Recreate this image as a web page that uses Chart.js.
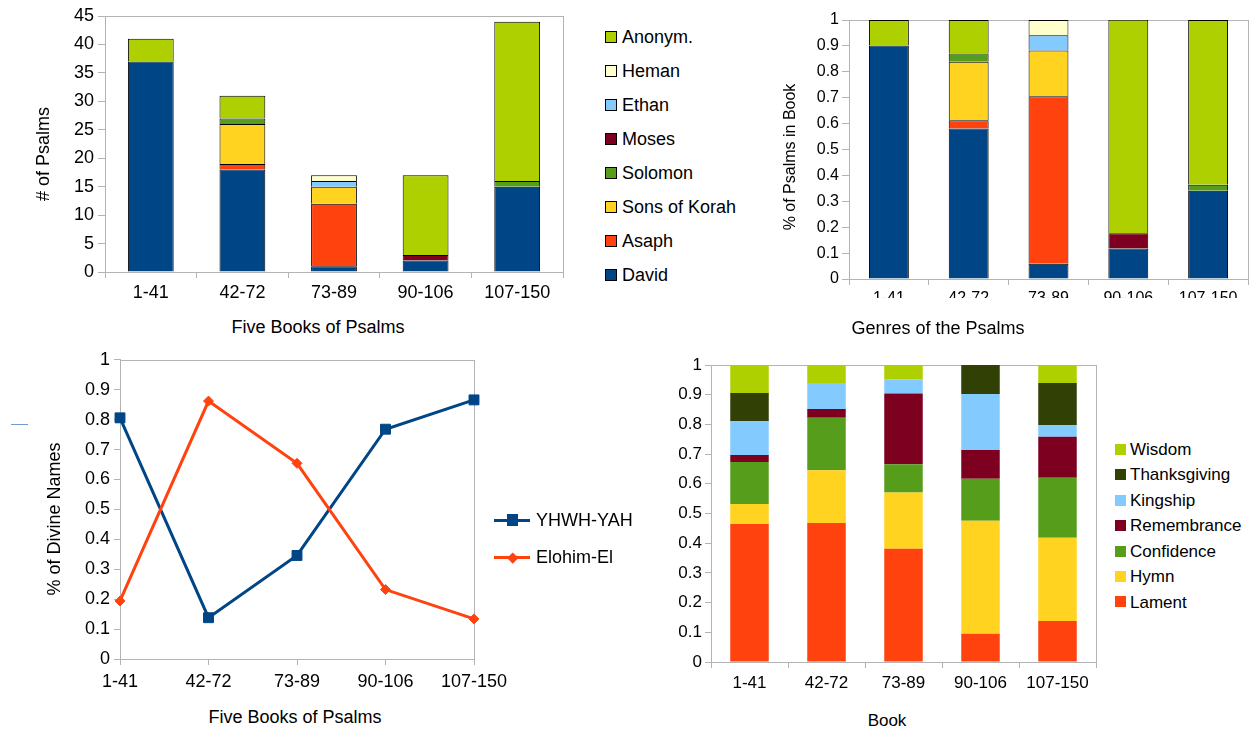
<!DOCTYPE html>
<html>
<head>
<meta charset="utf-8">
<title>Psalms: authors, divine names and genres</title>
<script src="https://cdn.jsdelivr.net/npm/chart.js@4.4.1/dist/chart.umd.min.js"></script>
<style>
  html, body { margin: 0; padding: 0; background: #fff; }
  #page { position: relative; width: 1254px; height: 730px; overflow: hidden;
          font-family: "Liberation Sans", Arial, sans-serif; color: #000; }
  #page canvas { position: absolute; }
  .ttl { position: absolute; white-space: nowrap; text-align: center; width: 400px; }
  .lg  { position: absolute; white-space: nowrap; }
  .sw  { position: absolute; box-sizing: border-box; }
</style>
</head>
<body>
<div id="page">
  <canvas id="authorCounts"></canvas>
  <canvas id="authorShares"></canvas>
  <canvas id="divineNames"></canvas>
  <canvas id="genreShares"></canvas>
  <div id="overlay"></div>
</div>
<script>
// ---- data ---------------------------------------------------------------
const books = ['1-41', '42-72', '73-89', '90-106', '107-150'];

// number of psalms per author in each book
const david   = [37, 18, 1, 2, 15];
const asaph   = [0, 1, 11, 0, 0];
const korah   = [0, 7, 3, 0, 0];
const solomon = [0, 1, 0, 0, 1];
const moses   = [0, 0, 0, 1, 0];
const ethan   = [0, 0, 1, 0, 0];
const heman   = [0, 0, 1, 0, 0];
const anonym  = [4, 4, 0, 14, 28];

// share of each author within a book
const davidShare   = [0.902, 0.581, 0.059, 0.118, 0.341];
const asaphShare   = [0, 0.032, 0.647, 0, 0];
const korahShare   = [0, 0.226, 0.176, 0, 0];
const solomonShare = [0, 0.032, 0, 0, 0.023];
const mosesShare   = [0, 0, 0, 0.059, 0];
const ethanShare   = [0, 0, 0.059, 0, 0];
const hemanShare   = [0, 0, 0.059, 0, 0];
const anonymShare  = [0.098, 0.129, 0, 0.824, 0.636];

// share of divine names
const yhwhYah   = [0.806, 0.138, 0.346, 0.768, 0.866];
const elohimEl  = [0.194, 0.862, 0.654, 0.232, 0.134];

// share of genres within a book
const lament       = [0.465, 0.468, 0.381, 0.095, 0.138];
const hymn         = [0.067, 0.178, 0.190, 0.381, 0.280];
const confidence   = [0.141, 0.176, 0.095, 0.141, 0.202];
const remembrance  = [0.024, 0.030, 0.238, 0.097, 0.138];
const kingship     = [0.114, 0.087, 0.048, 0.188, 0.040];
const thanksgiving = [0.095, 0, 0, 0.098, 0.141];
const wisdom       = [0.094, 0.061, 0.048, 0, 0.061];

// tick values
const countTicks = [0, 5, 10, 15, 20, 25, 30, 35, 40, 45];
const shareTicks = [0, 0.1, 0.2, 0.3, 0.4, 0.5, 0.6, 0.7, 0.8, 0.9, 1];

// ---- series names and colours ----------------------------------------------
const authorNames  = ['David', 'Asaph', 'Sons of Korah', 'Solomon', 'Moses', 'Ethan', 'Heman', 'Anonym.'];
const authorColors = ['#004586', '#ff420e', '#ffd320', '#579d1c', '#7e0021', '#83caff', '#ffffcc', '#aecf00'];
const authorCounts = [david, asaph, korah, solomon, moses, ethan, heman, anonym];
const authorShares = [davidShare, asaphShare, korahShare, solomonShare, mosesShare, ethanShare, hemanShare, anonymShare];

const genreNames  = ['Lament', 'Hymn', 'Confidence', 'Remembrance', 'Kingship', 'Thanksgiving', 'Wisdom'];
const genreColors = ['#ff420e', '#ffd320', '#579d1c', '#7e0021', '#83caff', '#314004', '#aecf00'];
const genreShares = [lament, hymn, confidence, remembrance, kingship, thanksgiving, wisdom];

// ---- helpers ------------------------------------------------------------------
const FONT = '"Liberation Sans", Arial, sans-serif';
const GREY = '#b3b3b3';

// grey box round the plot area, drawn beneath the data
const plotFrame = {
  id: 'plotFrame',
  beforeDatasetsDraw(chart) {
    const a = chart.chartArea, ctx = chart.ctx;
    ctx.save();
    ctx.strokeStyle = GREY;
    ctx.lineWidth = 1;
    ctx.strokeRect(Math.round(a.left) + 0.5, Math.round(a.top) + 0.5,
                   Math.round(a.right - a.left), Math.round(a.bottom - a.top));
    ctx.restore();
  }
};

function tickValues(list) {
  return function (scale) {
    scale.ticks = list.map(v => ({ value: v }));
  };
}

// g: canvas box (x, y, w, h) and plot box (l, t, r, b) in page pixels
function makeChart(id, g, type, datasets, ax) {
  const cv = document.getElementById(id);
  cv.width = g.w; cv.height = g.h;
  cv.style.left = g.x + 'px'; cv.style.top = g.y + 'px';
  const p = g.plot;
  const isBar = type === 'bar';
  return new Chart(cv, {
    type,
    data: { labels: books, datasets },
    plugins: [plotFrame],
    options: {
      responsive: false,
      animation: false,
      devicePixelRatio: 1,
      layout: { autoPadding: false,
                padding: { left: 0, top: p.t - g.y, right: g.x + g.w - p.r, bottom: 0 } },
      plugins: { legend: { display: false }, tooltip: { enabled: false } },
      scales: {
        x: {
          stacked: isBar,
          offset: isBar,
          grid: { drawOnChartArea: false, drawTicks: true, tickLength: ax.xTick, color: GREY, offset: isBar },
          border: { color: GREY },
          ticks: { font: { family: FONT, size: g.fs }, color: '#000', padding: ax.xPad,
                   maxRotation: 0, autoSkip: false },
          afterFit(s) { s.height = g.y + g.h - p.b; }
        },
        y: {
          stacked: isBar,
          min: 0,
          max: ax.max,
          grid: { drawOnChartArea: false, drawTicks: true, tickLength: ax.yTick, color: GREY },
          border: { color: GREY },
          afterBuildTicks: tickValues(ax.ticks),
          ticks: { font: { family: FONT, size: g.fs }, color: '#000', padding: ax.yPad,
                   callback: v => String(+Number(v).toFixed(1)) },
          afterFit(s) { s.width = p.l - g.x; }
        }
      }
    }
  });
}

function barSets(names, colors, values, bordered) {
  return names.map((n, i) => ({
    label: n,
    data: values[i],
    backgroundColor: colors[i],
    borderColor: '#000',
    borderWidth: bordered ? 1 : 0,
    barPercentage: 0.5,
    categoryPercentage: 1
  }));
}

// ---- charts ---------------------------------------------------------------------
makeChart('authorCounts',
  { x: 0, y: 0, w: 600, h: 312, fs: 18, plot: { l: 105, t: 16, r: 563, b: 272 } },
  'bar', barSets(authorNames, authorColors, authorCounts, true),
  { max: 45, ticks: countTicks, yTick: 7, yPad: 4, xTick: 6, xPad: 4 });

makeChart('authorShares',
  { x: 780, y: 0, w: 474, h: 298, fs: 16, plot: { l: 849, t: 20, r: 1248, b: 279 } },
  'bar', barSets(authorNames, authorColors, authorShares, true),
  { max: 1, ticks: shareTicks, yTick: 7, yPad: 3, xTick: 6, xPad: 4 });

makeChart('divineNames',
  { x: 0, y: 345, w: 520, h: 355, fs: 18, plot: { l: 120, t: 359, r: 474, b: 659 } },
  'line', [
    { label: 'YHWH-YAH', data: yhwhYah, borderColor: '#004586', backgroundColor: '#004586',
      borderWidth: 3, pointStyle: 'rect', pointRadius: 7, pointBorderWidth: 1,
      tension: 0, clip: false, order: 1 },
    { label: 'Elohim-El', data: elohimEl, borderColor: '#ff420e', backgroundColor: '#ff420e',
      borderWidth: 3, pointStyle: 'rectRot', pointRadius: 5, pointBorderWidth: 1,
      tension: 0, clip: false, order: 0 }
  ],
  { max: 1, ticks: shareTicks, yTick: 6, yPad: 4, xTick: 6, xPad: 6 });

makeChart('genreShares',
  { x: 660, y: 345, w: 440, h: 355, fs: 17, plot: { l: 711, t: 365, r: 1096, b: 662 } },
  'bar', barSets(genreNames, genreColors, genreShares, false),
  { max: 1, ticks: shareTicks, yTick: 6, yPad: 3, xTick: 6, xPad: 5 });

// ---- axis titles and legends ---------------------------------------------------------
const overlay = document.getElementById('overlay');

function addTitle(text, cx, cy, fs, vertical) {
  const d = document.createElement('div');
  d.className = 'ttl';
  d.textContent = text;
  d.style.fontSize = fs + 'px';
  d.style.lineHeight = Math.round(fs * 1.1) + 'px';
  d.style.left = (cx - 200) + 'px';
  d.style.top = (cy - fs * 0.55) + 'px';
  if (vertical) d.style.transform = 'rotate(-90deg)';
  overlay.appendChild(d);
}

addTitle('# of Psalms', 42.5, 154, 18, true);
addTitle('Five Books of Psalms', 318, 326.5, 18, false);
addTitle('% of Psalms in Book', 790, 157, 16, true);
addTitle('Genres of the Psalms', 938, 328, 18, false);
addTitle('% of Divine Names', 54, 519, 18, true);
addTitle('Five Books of Psalms', 295, 716.5, 18, false);
addTitle('Book', 887, 720, 17, false);

function addLabel(text, x, cy, fs) {
  const d = document.createElement('div');
  d.className = 'lg';
  d.textContent = text;
  d.style.fontSize = fs + 'px';
  d.style.lineHeight = Math.round(fs * 1.1) + 'px';
  d.style.left = x + 'px';
  d.style.top = (cy - fs * 0.55) + 'px';
  overlay.appendChild(d);
}

function addSwatch(x, cy, size, color, border) {
  const s = document.createElement('div');
  s.className = 'sw';
  s.style.left = x + 'px';
  s.style.top = (cy - size / 2) + 'px';
  s.style.width = size + 'px';
  s.style.height = size + 'px';
  s.style.background = color;
  if (border) s.style.border = '1px solid #000';
  overlay.appendChild(s);
}

// author legend, last series first
authorNames.slice().reverse().forEach((n, i) => {
  const cy = 36.7 + i * 34;
  addSwatch(605, cy, 12, authorColors[authorNames.length - 1 - i], true);
  addLabel(n, 622, cy, 18);
});

// genre legend, last series first
genreNames.slice().reverse().forEach((n, i) => {
  const cy = 449.2 + i * 25.45;
  addSwatch(1115, cy, 11, genreColors[genreNames.length - 1 - i], false);
  addLabel(n, 1130, cy, 17);
});

// divine-name legend: line with its marker
function addLineKey(text, cy, color, diamond) {
  const ln = document.createElement('div');
  ln.className = 'sw';
  ln.style.left = '494px'; ln.style.top = (cy - 1.5) + 'px';
  ln.style.width = '36px'; ln.style.height = '3px';
  ln.style.background = color;
  overlay.appendChild(ln);
  const m = document.createElement('div');
  m.className = 'sw';
  const size = diamond ? 7.5 : 11.5;
  m.style.left = (512.3 - size / 2) + 'px';
  m.style.top = (cy - size / 2) + 'px';
  m.style.width = size + 'px'; m.style.height = size + 'px';
  m.style.background = color;
  if (diamond) m.style.transform = 'rotate(45deg)';
  overlay.appendChild(m);
  addLabel(text, 536, cy, 18);
}
addLineKey('YHWH-YAH', 520, '#004586', false);
addLineKey('Elohim-El', 557.3, '#ff420e', true);

// short blue stroke at the left margin
const stroke = document.createElement('div');
stroke.className = 'sw';
stroke.style.left = '11px'; stroke.style.top = '424px';
stroke.style.width = '17px'; stroke.style.height = '1px';
stroke.style.background = '#6f9bd0';
overlay.appendChild(stroke);
</script>
</body>
</html>
